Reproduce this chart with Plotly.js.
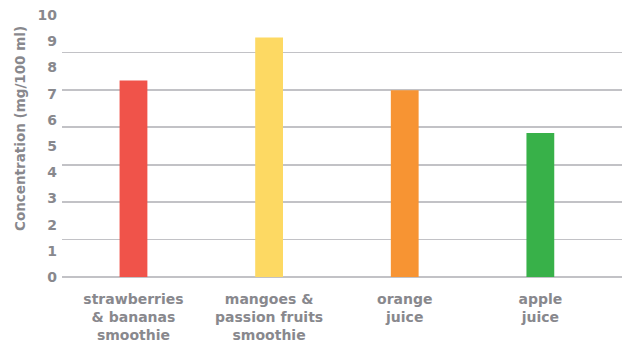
<!DOCTYPE html>
<html>
<head>
<meta charset="utf-8">
<script src="https://cdn.plot.ly/plotly-3.0.1.min.js"></script>
<style>html,body{margin:0;padding:0;background:#fff;}#chart{width:622px;height:343px;}</style>
</head>
<body>
<div id="chart"></div>
<script>
const categories = ["strawberries<br>& bananas<br>smoothie", "mangoes &<br>passion fruits<br>smoothie", "orange<br>juice", "apple<br>juice"];
const values = [7.5, 9.14, 7.13, 5.5];
const barColors = ["#f0534a", "#fdd963", "#f79433", "#38b149"];
const yTickVals = [0, 1, 2, 3, 4, 5, 6, 7, 8, 9, 10];
const yTitle = "Concentration (mg/100 ml)";

const textColor = "#88888d";
const font = "DejaVu Sans, sans-serif";

const data = [
  {
    type: "bar",
    x: [0, 1, 2, 3],
    y: values,
    marker: { color: barColors },
    width: 0.205,
    hoverinfo: "none"
  },
  {
    type: "scatter",
    x: [0],
    y: [0],
    yaxis: "y2",
    mode: "markers",
    marker: { opacity: 0 },
    showlegend: false,
    hoverinfo: "none"
  }
];

const layout = {
  width: 622,
  height: 343,
  margin: { l: 62, r: 0, t: 15, b: 66 },
  paper_bgcolor: "#fff",
  plot_bgcolor: "rgba(0,0,0,0)",
  showlegend: false,
  xaxis: {
    range: [-0.527, 3.602],
    tickvals: [0, 1, 2, 3],
    ticktext: categories,
    showgrid: false,
    zeroline: false,
    showline: false,
    ticks: "",
    ticklabelstandoff: 12,
    tickfont: { family: font, size: 14, color: textColor, weight: "bold" },
    fixedrange: true
  },
  yaxis: {
    range: [0, 10],
    tickvals: yTickVals,
    showgrid: false,
    zeroline: false,
    showline: false,
    ticks: "",
    ticklabelstandoff: 4,
    tickfont: { family: font, size: 14, color: textColor, weight: "bold" },
    fixedrange: true
  },
  yaxis2: {
    overlaying: "y",
    range: [0, 7],
    dtick: 1,
    showgrid: true,
    gridcolor: "#c2c2c6",
    gridwidth: 1.6,
    zeroline: true,
    zerolinecolor: "#c2c2c6",
    zerolinewidth: 1.6,
    showticklabels: false,
    ticks: "",
    fixedrange: true
  },
  annotations: [
    {
      text: yTitle,
      xref: "paper",
      yref: "paper",
      x: -0.075,
      y: 0.565,
      xanchor: "center",
      yanchor: "middle",
      textangle: -90,
      showarrow: false,
      font: { family: font, size: 13.5, color: textColor, weight: "bold" }
    }
  ]
};

Plotly.newPlot("chart", data, layout, { staticPlot: true, displayModeBar: false });
</script>
</body>
</html>
